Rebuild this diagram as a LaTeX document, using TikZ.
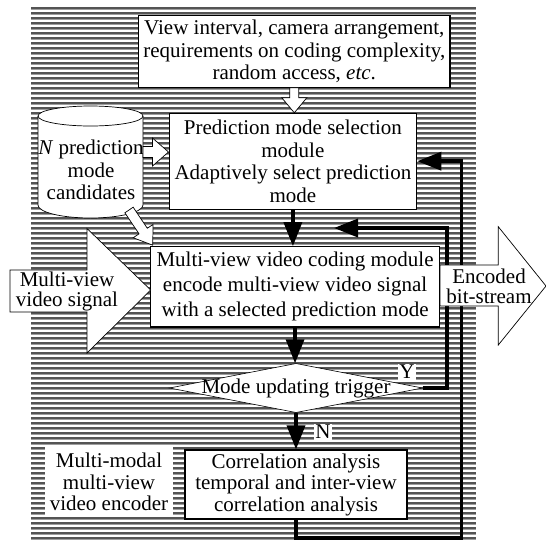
\documentclass[tikz,border=0pt]{standalone}
\usepackage{fontspec}
\setmainfont{Liberation Serif}
\usetikzlibrary{arrows.meta,calc}
\definecolor{sdark}{gray}{0.33}
\definecolor{smid}{gray}{0.62}
\newcommand\figfont{\fontsize{21pt}{22.5pt}\selectfont}
\newcommand\hollowarrow[5]{%
  \path (#2) coordinate (ha-tip) ($(#2)!#5!(#1)$) coordinate (ha-base);
  \draw[hollow] ($(#1)!#3!90:(#2)$) -- ($(ha-base)!#3!-90:(#1)$) -- ($(ha-base)!#4!-90:(#1)$)
     -- (ha-tip) -- ($(ha-base)!#4!90:(#1)$) -- ($(ha-base)!#3!90:(#1)$) -- ($(#1)!#3!-90:(#2)$) -- cycle;
}
\tikzset{
  box/.style={draw=black, line width=1.1pt, fill=white, align=center, inner sep=0pt, font=\figfont},
  plain/.style={fill=white, align=center, inner sep=0pt, font=\figfont},
  txt/.style={align=center, inner sep=0pt, font=\figfont},
  flow/.style={line width=3.5pt, -{Triangle[length=24pt,width=18pt]}},
  hollow/.style={draw=black, line width=0.7pt, fill=white, line join=miter},
  lbl/.style={fill=white, inner sep=1pt, font=\figfont},
}
\begin{document}
\begin{tikzpicture}[x=1pt,y=-1pt]
\useasboundingbox (0,0) rectangle (546,542);
% striped background
\foreach \yy in {7,12,...,537}{
  \fill[sdark] (30.5,\yy) rectangle (476,\yy+1.6);
  \fill[smid] (30.5,\yy+1.6) rectangle (476,\yy+3);
}
% boxes
\node[box, minimum width=311.4pt, minimum height=71.6pt] (top) at (294.3,51.5)
  {View interval, camera arrangement,\\requirements on coding complexity,\\random access, \textit{etc}.};
\node[box, minimum width=247.7pt, minimum height=95.7pt] (pred) at (292.9,161.2)
  {Prediction mode selection\\module\\Adaptively select prediction\\mode};
\node[box, minimum width=288.7pt, minimum height=80.3pt, font=\fontsize{21pt}{25pt}\selectfont] (code) at (295.05,286.85)
  {Multi-view video coding module\\encode multi-view video signal\\with a selected prediction mode};
\node[box, minimum width=222pt, minimum height=69pt, font=\fontsize{21pt}{21.5pt}\selectfont] (corr) at (296,484.5)
  {Correlation analysis\\temporal and inter-view\\correlation analysis};
\node[plain, minimum width=128pt, minimum height=70pt, font=\fontsize{21pt}{21.5pt}\selectfont] (enclabel) at (109,482)
  {Multi-modal\\multi-view\\video encoder};
% decision diamond
\coordinate (tc) at (296,388);
\draw[line width=0.6pt, fill=white] ($(tc)+(0,-24.5)$) -- ($(tc)+(126.5,0)$) -- ($(tc)+(0,24.5)$) -- ($(tc)+(-126.5,0)$) -- cycle;
\node[txt, minimum width=253pt, minimum height=49pt] (trig) at (tc) {Mode updating trigger};
% cylinder (prediction mode candidates)
\draw[line width=0.7pt, fill=white] (38,116) -- (38,205) arc[start angle=180, end angle=0, x radius=52.5, y radius=13]
  -- (143,116) arc[start angle=0, end angle=-180, x radius=52.5, y radius=10] -- cycle;
\draw[line width=0.7pt] (38,116) arc[start angle=180, end angle=0, x radius=52.5, y radius=10];
\node[txt] (cyl) at (91,170) {\textit{N} prediction\\mode\\candidates};
% hollow arrows
\coordinate (a1) at (top.south |- pred.north);
\hollowarrow{top.south}{a1}{4.5pt}{12.5pt}{15pt}
\coordinate (a2s) at (143,152);
\coordinate (a2e) at (pred.west |- a2s);
\hollowarrow{a2s}{a2e}{5.5pt}{14pt}{16pt}
\coordinate (a3s) at (129,210);
\coordinate (a3e) at ($(code.north west)+(2.5,-1)$);
\hollowarrow{a3s}{a3e}{5pt}{12pt}{17pt}
% input signal arrow
\draw[hollow] (10,270) -- (87,270) -- (87,228.5) -- (150.7,290) -- (87,353) -- (87,312) -- (10,312) -- cycle;
\node[txt, font=\fontsize{21pt}{20pt}\selectfont] (sig) at (67,291) {Multi-view\\video signal};
% flow connectors
\draw[flow] (pred.south) -- (pred.south |- code.north);
\draw[flow] (code.south) -- (code.south |- trig.north);
\draw[flow] (trig.south) -- (corr.north);
\coordinate (yc) at (447,228);
\coordinate (ytip) at (334,228);
\draw[flow] (trig.east) -| (yc) -- (ytip);
\coordinate (fb) at (461.7,538);
\draw[flow] (corr.south) |- (fb) |- (pred.east);
\node[lbl] (ylab) at (407,372) {Y};
\node[lbl] (nlab) at (323,432) {N};
% output arrow
\draw[hollow] (440,265) -- (498.3,265) -- (498.3,226.7) -- (546,286) -- (498.3,345) -- (498.3,306) -- (440,306) -- cycle;
\node[txt, font=\fontsize{21pt}{20pt}\selectfont] (enc) at (489,286) {Encoded\\bit-stream};
\end{tikzpicture}
\end{document}
